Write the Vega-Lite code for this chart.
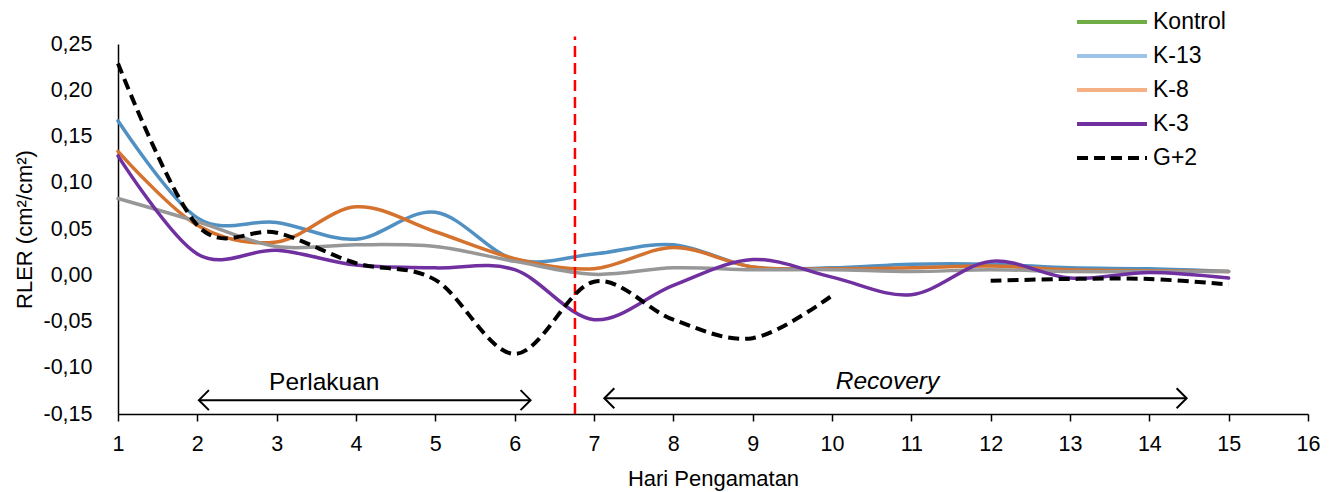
{
  "$schema": "https://vega.github.io/schema/vega-lite/v6.json",
  "width": 1190,
  "height": 370,
  "autosize": {"type": "none"},
  "padding": {"left": 118, "top": 44, "right": 25, "bottom": 78},
  "background": "white",
  "config": {"view": {"stroke": null}, "font": "Liberation Sans", "axis": {"grid": false}},
  "datasets": {
    "lines": [
      {"day": 1, "v": 0.167, "s": "K-13"}, {"day": 2, "v": 0.062, "s": "K-13"}, {"day": 3, "v": 0.057, "s": "K-13"}, {"day": 4, "v": 0.039, "s": "K-13"}, {"day": 5, "v": 0.068, "s": "K-13"}, {"day": 6, "v": 0.017, "s": "K-13"}, {"day": 7, "v": 0.023, "s": "K-13"}, {"day": 8, "v": 0.033, "s": "K-13"}, {"day": 9, "v": 0.009, "s": "K-13"}, {"day": 10, "v": 0.008, "s": "K-13"}, {"day": 11, "v": 0.012, "s": "K-13"}, {"day": 12, "v": 0.012, "s": "K-13"}, {"day": 13, "v": 0.008, "s": "K-13"}, {"day": 14, "v": 0.007, "s": "K-13"}, {"day": 15, "v": 0.004, "s": "K-13"},
      {"day": 1, "v": 0.134, "s": "K-8"}, {"day": 2, "v": 0.054, "s": "K-8"}, {"day": 3, "v": 0.036, "s": "K-8"}, {"day": 4, "v": 0.074, "s": "K-8"}, {"day": 5, "v": 0.047, "s": "K-8"}, {"day": 6, "v": 0.018, "s": "K-8"}, {"day": 7, "v": 0.007, "s": "K-8"}, {"day": 8, "v": 0.030, "s": "K-8"}, {"day": 9, "v": 0.009, "s": "K-8"}, {"day": 10, "v": 0.007, "s": "K-8"}, {"day": 11, "v": 0.008, "s": "K-8"}, {"day": 12, "v": 0.010, "s": "K-8"}, {"day": 13, "v": 0.006, "s": "K-8"}, {"day": 14, "v": 0.005, "s": "K-8"}, {"day": 15, "v": 0.004, "s": "K-8"},
      {"day": 1, "v": 0.083, "s": "Kontrol"}, {"day": 2, "v": 0.058, "s": "Kontrol"}, {"day": 3, "v": 0.031, "s": "Kontrol"}, {"day": 4, "v": 0.033, "s": "Kontrol"}, {"day": 5, "v": 0.031, "s": "Kontrol"}, {"day": 6, "v": 0.015, "s": "Kontrol"}, {"day": 7, "v": 0.001, "s": "Kontrol"}, {"day": 8, "v": 0.008, "s": "Kontrol"}, {"day": 9, "v": 0.006, "s": "Kontrol"}, {"day": 10, "v": 0.006, "s": "Kontrol"}, {"day": 11, "v": 0.004, "s": "Kontrol"}, {"day": 12, "v": 0.006, "s": "Kontrol"}, {"day": 13, "v": 0.004, "s": "Kontrol"}, {"day": 14, "v": 0.004, "s": "Kontrol"}, {"day": 15, "v": 0.004, "s": "Kontrol"},
      {"day": 1, "v": 0.129, "s": "K-3"}, {"day": 2, "v": 0.023, "s": "K-3"}, {"day": 3, "v": 0.027, "s": "K-3"}, {"day": 4, "v": 0.011, "s": "K-3"}, {"day": 5, "v": 0.008, "s": "K-3"}, {"day": 6, "v": 0.006, "s": "K-3"}, {"day": 7, "v": -0.048, "s": "K-3"}, {"day": 8, "v": -0.011, "s": "K-3"}, {"day": 9, "v": 0.017, "s": "K-3"}, {"day": 10, "v": -0.002, "s": "K-3"}, {"day": 11, "v": -0.021, "s": "K-3"}, {"day": 12, "v": 0.015, "s": "K-3"}, {"day": 13, "v": -0.003, "s": "K-3"}, {"day": 14, "v": 0.003, "s": "K-3"}, {"day": 15, "v": -0.003, "s": "K-3"},
      {"day": 1, "v": 0.229, "s": "G+2"}, {"day": 2, "v": 0.054, "s": "G+2"}, {"day": 3, "v": 0.046, "s": "G+2"}, {"day": 4, "v": 0.013, "s": "G+2"}, {"day": 5, "v": -0.005, "s": "G+2"}, {"day": 6, "v": -0.085, "s": "G+2"}, {"day": 7, "v": -0.007, "s": "G+2"}, {"day": 8, "v": -0.048, "s": "G+2"}, {"day": 9, "v": -0.068, "s": "G+2"}, {"day": 10, "v": -0.022, "s": "G+2"}, {"day": 11, "v": null, "s": "G+2"}, {"day": 12, "v": -0.006, "s": "G+2"}, {"day": 13, "v": -0.004, "s": "G+2"}, {"day": 14, "v": -0.004, "s": "G+2"}, {"day": 15, "v": -0.010, "s": "G+2"}
    ],
    "divider": [{"day": 6.76, "v": -0.15, "v2": 0.258}],
    "arrows": [
      {"day": 2.02, "day2": 6.2, "v": -0.135},
      {"day": 7.13, "day2": 14.47, "v": -0.133}
    ],
    "heads": [
      {"day": 2.02, "v": -0.135, "dir": "L"},
      {"day": 6.2, "v": -0.135, "dir": "R"},
      {"day": 7.13, "v": -0.133, "dir": "L"},
      {"day": 14.47, "v": -0.133, "dir": "R"}
    ],
    "labels": [
      {"day": 3.6, "v": -0.117, "label": "Perlakuan"},
      {"day": 10.7, "v": -0.115, "label": "Recovery"}
    ]
  },
  "encoding": {
    "x": {
      "field": "day", "type": "quantitative",
      "scale": {"domain": [1, 16], "nice": false, "zero": false},
      "axis": {
        "title": "Hari Pengamatan",
        "values": [1, 2, 3, 4, 5, 6, 7, 8, 9, 10, 11, 12, 13, 14, 15, 16],
        "format": "d",
        "domainColor": "#000000", "domainWidth": 1.5,
        "tickColor": "#000000", "tickWidth": 1.5, "tickSize": 7,
        "labelFontSize": 21.5, "labelColor": "#000000", "labelBaseline": "alphabetic", "labelPadding": 29,
        "labelFlush": false, "labelOverlap": false,
        "titleFontSize": 22, "titleFontWeight": "normal", "titleColor": "#000000",
        "titleBaseline": "alphabetic", "titleY": 71, "titleX": 595
      }
    },
    "y": {
      "field": "v", "type": "quantitative",
      "scale": {"domain": [-0.15, 0.25], "nice": false, "zero": false},
      "axis": {
        "title": "RLER (cm²/cm²)",
        "values": [-0.15, -0.1, -0.05, 0, 0.05, 0.1, 0.15, 0.2, 0.25],
        "labelExpr": "(datum.value < 0 ? '-' : '') + replace(format(abs(datum.value), '.2f'), '.', ',')",
        "ticks": false,
        "domainColor": "#000000", "domainWidth": 1.5,
        "labelFontSize": 21.5, "labelColor": "#000000", "labelPadding": 26,
        "titleFontSize": 22, "titleFontWeight": "normal", "titleColor": "#000000",
        "titleBaseline": "alphabetic", "titleX": -87, "titleY": 185
      }
    }
  },
  "layer": [
    {
      "data": {"name": "lines"},
      "transform": [{"filter": "datum.s != 'G+2'"}],
      "mark": {"type": "line", "interpolate": "cardinal", "strokeWidth": 3.5, "strokeCap": "round", "invalid": "break-paths-filter-domains"},
      "encoding": {
        "stroke": {"field": "s", "type": "nominal", "scale": {"domain": ["K-13", "K-8", "Kontrol", "K-3"], "range": ["#5090c2", "#d4722e", "#979797", "#7030a0"]}, "legend": null}
      }
    },
    {
      "data": {"name": "divider"},
      "mark": {"type": "rule", "color": "#ff0000", "strokeWidth": 2.5, "strokeDash": [11, 6]},
      "encoding": {"y2": {"field": "v2"}}
    },
    {
      "data": {"name": "lines"},
      "transform": [{"filter": "datum.s == 'G+2'"}],
      "mark": {"type": "line", "interpolate": "cardinal", "strokeWidth": 4, "color": "#000000", "strokeDash": [11, 6], "invalid": "break-paths-filter-domains"},
      "encoding": {}
    },
    {
      "data": {"name": "lines"},
      "transform": [{"filter": "false"}],
      "mark": {"type": "line"},
      "encoding": {
        "color": {
          "field": "s", "type": "nominal",
          "scale": {"domain": ["Kontrol", "K-13", "K-8", "K-3", "G+2"], "range": ["#70ad47", "#9dc3e6", "#f4b183", "#7030a0", "#000000"]},
          "legend": {
            "orient": "none", "legendX": 957, "legendY": -34, "title": null,
            "symbolType": "stroke", "symbolSize": 4900, "symbolStrokeWidth": 4, "symbolOpacity": 1,
            "labelFontSize": 23, "labelColor": "#000000", "labelFont": "Liberation Sans", "labelOffset": 4,
            "clipHeight": 24, "rowPadding": 10,
            "encode": {"symbols": {"update": {"strokeDash": {"signal": "datum.value == 'G+2' ? [11, 6] : null"}}}}
          }
        }
      }
    },
    {
      "data": {"name": "arrows"},
      "mark": {"type": "rule", "color": "#000000", "strokeWidth": 2},
      "encoding": {"x2": {"field": "day2"}}
    },
    {
      "data": {"name": "heads"},
      "mark": {"type": "point", "filled": false, "color": "#000000", "strokeWidth": 2, "size": 400, "opacity": 1},
      "encoding": {
        "shape": {"field": "dir", "type": "nominal", "scale": {"domain": ["L", "R"], "range": ["M1,-1L0,0L1,1", "M-1,-1L0,0L-1,1"]}, "legend": null}
      }
    },
    {
      "data": {"name": "labels"},
      "transform": [{"filter": "datum.label == 'Perlakuan'"}],
      "mark": {"type": "text", "fontSize": 24.5, "color": "#000000", "baseline": "middle", "align": "center"},
      "encoding": {"text": {"field": "label"}}
    },
    {
      "data": {"name": "labels"},
      "transform": [{"filter": "datum.label == 'Recovery'"}],
      "mark": {"type": "text", "fontSize": 24.5, "fontStyle": "italic", "color": "#000000", "baseline": "middle", "align": "center"},
      "encoding": {"text": {"field": "label"}}
    }
  ]
}
